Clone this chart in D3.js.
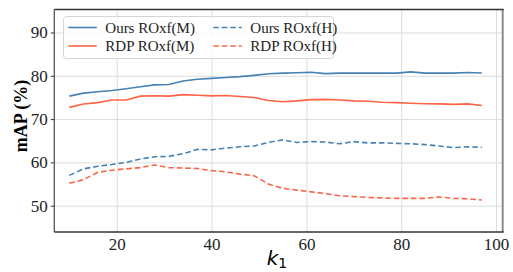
<!DOCTYPE html>
<html>
<head>
<meta charset="utf-8">
<script src="https://cdn.jsdelivr.net/npm/d3@7"></script>
<style>
  body { margin: 0; background: #fff; }
  .grid line { stroke: #dcdcdc; stroke-width: 1; }
  .grid path { display: none; }
  .tick text { font-family: "Liberation Serif", "Times New Roman", serif; font-size: 17px; fill: #222; }
</style>
</head>
<body>
<svg id="viz" width="513" height="272"></svg>
<script>
// k1 values on the x axis
var k1 = [10,13,16,19,22,25,28,31,34,37,40,43,46,49,52,55,58,61,64,67,70,73,76,79,82,85,88,91,94,97]

var ours_m = [75.3,76.0,76.3,76.6,77.0,77.45,77.9,78.0,78.8,79.2,79.4,79.6,79.8,80.1,80.45,80.6,80.7,80.8,80.5,80.6,80.6,80.6,80.6,80.6,80.9,80.6,80.6,80.6,80.75,80.65]
var rdp_m  = [72.7,73.5,73.8,74.4,74.4,75.3,75.4,75.3,75.65,75.5,75.35,75.45,75.2,75.0,74.3,74.0,74.2,74.5,74.55,74.4,74.2,74.1,73.9,73.8,73.65,73.55,73.5,73.4,73.5,73.15]
var ours_h = [57.0,58.5,59.1,59.5,60.0,60.8,61.3,61.4,62.0,63.0,62.9,63.3,63.6,63.8,64.6,65.2,64.6,64.8,64.7,64.3,64.8,64.5,64.5,64.4,64.3,64.1,63.8,63.4,63.6,63.5]
var rdp_h  = [55.2,56.0,57.7,58.2,58.5,58.8,59.4,58.8,58.7,58.6,58.1,57.8,57.3,56.9,55.0,54.0,53.6,53.2,52.8,52.3,52.1,51.9,51.8,51.7,51.7,51.7,52.0,51.7,51.6,51.3]

var series_names = ["Ours ROxf(M)", "RDP ROxf(M)", "Ours ROxf(H)", "RDP ROxf(H)"]
var x_ticks = [20,40,60,80,100]
var y_ticks = [50,60,70,80,90]

var blue = "#4682b4", red = "#ff6347"
var series = [
  {name: series_names[0], values: ours_m, color: blue, dash: null},
  {name: series_names[1], values: rdp_m, color: red, dash: null},
  {name: series_names[2], values: ours_h, color: blue, dash: "5.5,3"},
  {name: series_names[3], values: rdp_h, color: red, dash: "5.5,3"}
]

// plot box (named so they don't clash with window.top)
var pLeft = 54.3, pRight = 502.7, pTop = 9.5, pBottom = 232

var x = d3.scaleLinear().domain([6.84, 101.4]).range([pLeft, pRight])
var y = d3.scaleLinear().domain([43.93, 95.3]).range([pBottom, pTop])

var svg = d3.select("#viz")

// grid
svg.append("g")
  .attr("class", "grid")
  .attr("transform", `translate(0,${pBottom})`)
  .call(d3.axisBottom(x).tickValues(x_ticks).tickSize(-(pBottom-pTop)).tickFormat(""))
svg.append("g")
  .attr("class", "grid")
  .attr("transform", `translate(${pLeft},0)`)
  .call(d3.axisLeft(y).tickValues(y_ticks).tickSize(-(pRight-pLeft)).tickFormat(""))

// lines
var line = d3.line()
  .x((d, i) => x(k1[i]))
  .y(d => y(d))

series.forEach(s => {
  svg.append("path")
    .attr("d", line(s.values))
    .attr("fill", "none")
    .attr("stroke", s.color)
    .attr("stroke-width", 1.6)
    .attr("stroke-dasharray", s.dash)
})

// frame
svg.append("line").attr("x1", pRight).attr("x2", pRight).attr("y1", pTop).attr("y2", pBottom)
  .attr("stroke", "#8a8a8a").attr("stroke-width", 2)
svg.append("line").attr("x1", pLeft).attr("x2", pRight+1).attr("y1", pTop).attr("y2", pTop)
  .attr("stroke", "#333").attr("stroke-width", 1.3)
svg.append("line").attr("x1", pLeft).attr("x2", pLeft).attr("y1", pTop).attr("y2", pBottom)
  .attr("stroke", "#555").attr("stroke-width", 1.3)
svg.append("line").attr("x1", pLeft).attr("x2", pRight+1).attr("y1", pBottom).attr("y2", pBottom)
  .attr("stroke", "#333").attr("stroke-width", 1.3)

// axes
var xAxis = svg.append("g")
  .attr("transform", `translate(0,${pBottom})`)
  .call(d3.axisBottom(x).tickValues(x_ticks).tickSize(0).tickPadding(6))
xAxis.select(".domain").remove()

var yAxis = svg.append("g")
  .attr("transform", `translate(${pLeft},0)`)
  .call(d3.axisLeft(y).tickValues(y_ticks).tickSize(3.5).tickPadding(3))
yAxis.select(".domain").remove()
yAxis.selectAll(".tick line").attr("stroke", "#333")

// axis labels
svg.append("text")
  .attr("transform", "translate(27,116) rotate(-90)")
  .attr("text-anchor", "middle")
  .style("font-family", "'Liberation Serif', serif")
  .style("font-weight", "bold")
  .style("font-size", "18px")
  .text("mAP (%)")

var xl = svg.append("text")
  .attr("x", 277)
  .attr("y", 265)
  .attr("text-anchor", "middle")
  .style("font-family", "'DejaVu Sans', sans-serif")
  .style("font-size", "20px")
xl.append("tspan").style("font-style", "italic").text("k")
xl.append("tspan").attr("dy", 3).style("font-size", "14px").text("1")

// legend
var lg = svg.append("g")
lg.append("rect")
  .attr("x", 63.5).attr("y", 16.5).attr("width", 270).attr("height", 42).attr("rx", 3)
  .attr("fill", "#fff").attr("fill-opacity", 0.85)
  .attr("stroke", "#d4d4d4").attr("stroke-width", 1)

var legend_pos = [[68.3, 27.5], [68.3, 46], [213.3, 27.5], [213.3, 46]]
series.forEach((s, i) => {
  var p = legend_pos[i]
  lg.append("line")
    .attr("x1", p[0]).attr("x2", p[0] + 28.5)
    .attr("y1", p[1]).attr("y2", p[1])
    .attr("stroke", s.color).attr("stroke-width", 1.6)
    .attr("stroke-dasharray", s.dash)
  lg.append("text")
    .attr("x", p[0] + 37).attr("y", p[1] + 5)
    .style("font-family", "'Liberation Serif', serif")
    .style("font-size", "15px")
    .style("fill", "#222")
    .text(s.name)
})
</script>
</body>
</html>
